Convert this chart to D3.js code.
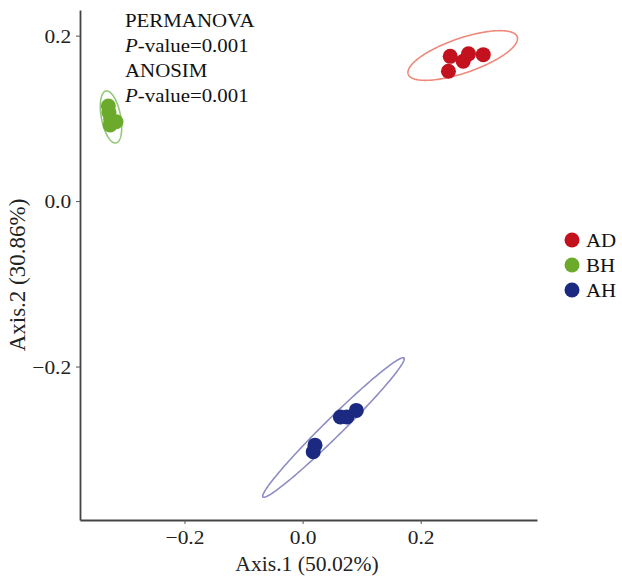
<!DOCTYPE html>
<html>
<head>
<meta charset="utf-8">
<script src="https://cdn.jsdelivr.net/npm/d3@7"></script>
<style>
  body { margin: 0; background: #fff; }
  svg text { font-family: "Liberation Serif", "DejaVu Serif", serif; }
</style>
</head>
<body>
<div id="chart"></div>
<script>
// groups, in legend order
const groups = ["AD", "BH", "AH"];
const groupColors = ["#C3121E", "#6CAA2C", "#1B2A80"];
const ellipseColors = ["#EE8A7C", "#93C97A", "#8D8DC4"];

// PCoA sample coordinates (Axis.1, Axis.2)
const adPoints = [[0.250, 0.175], [0.281, 0.178], [0.272, 0.169], [0.306, 0.177], [0.247, 0.157]];
const bhPoints = [[-0.329, 0.115], [-0.328, 0.107], [-0.325, 0.099], [-0.316, 0.096], [-0.326, 0.092]];
const ahPoints = [[0.021, -0.295], [0.018, -0.303], [0.064, -0.261], [0.075, -0.261], [0.091, -0.253]];

// ellipses: centre, end of major axis, end of minor axis (data units)
const ellipseCentres = [[0.2712, 0.1760], [-0.3245, 0.1017], [0.0523, -0.2737]];
const ellipseMajorEnds = [[0.3636, 0.1984], [-0.3330, 0.1331], [0.1717, -0.1897]];
const ellipseMinorEnds = [[0.2800, 0.1560], [-0.3085, 0.1040], [0.0630, -0.2814]];

const xTicks = [-0.2, 0.0, 0.2];
const yTicks = [-0.2, 0.0, 0.2];
const statLines = ["PERMANOVA", "P|-value=0.001", "ANOSIM", "P|-value=0.001"];

const width = 622, height = 577;
const svg = d3.select("#chart").append("svg")
    .attr("width", width).attr("height", height);

const x = d3.scaleLinear().domain([-0.377, 0.397]).range([80, 537]);
const y = d3.scaleLinear().domain([-0.3855, 0.231]).range([520, 10]);

// ellipses
const line = d3.line().curve(d3.curveLinearClosed);
ellipseCentres.forEach((c, i) => {
    const m = ellipseMajorEnds[i], n = ellipseMinorEnds[i];
    const pts = d3.range(0, 2 * Math.PI, Math.PI / 90).map(t => {
        const dx = Math.cos(t) * (m[0] - c[0]) + Math.sin(t) * (n[0] - c[0]);
        const dy = Math.cos(t) * (m[1] - c[1]) + Math.sin(t) * (n[1] - c[1]);
        return [x(c[0] + dx), y(c[1] + dy)];
    });
    svg.append("path")
        .attr("d", line(pts))
        .attr("fill", "none")
        .attr("stroke", ellipseColors[i])
        .attr("stroke-width", 1.6);
});

// points
[adPoints, bhPoints, ahPoints].forEach((pts, i) => {
    svg.append("g").selectAll("circle")
        .data(pts).enter()
        .append("circle")
        .attr("cx", d => x(d[0]))
        .attr("cy", d => y(d[1]))
        .attr("r", 7.5)
        .attr("fill", groupColors[i]);
});

// axes
const axisColor = "#444";
const xAxis = svg.append("g")
    .attr("transform", "translate(0,520)")
    .call(d3.axisBottom(x).tickValues(xTicks).tickSize(4).tickSizeOuter(0).tickFormat(d3.format(".1f")));
const yAxis = svg.append("g")
    .attr("transform", "translate(80,0)")
    .call(d3.axisLeft(y).tickValues(yTicks).tickSize(4).tickSizeOuter(0).tickFormat(d3.format(".1f")));

[xAxis, yAxis].forEach(a => {
    a.select(".domain").attr("stroke", axisColor).attr("stroke-width", 1.8);
    a.selectAll(".tick line").attr("stroke", "#555").attr("stroke-width", 1);
    a.selectAll(".tick text")
        .attr("fill", "#222")
        .attr("transform", "scale(1.1,1)")
        .style("font-family", "Liberation Serif, serif")
        .style("font-size", "19.5px");
});
xAxis.selectAll(".tick text").attr("dy", null).attr("y", 24);
yAxis.selectAll(".tick text").attr("x", -8).attr("dy", "0.35em");

svg.append("text")
    .attr("transform", "translate(307,571) scale(1.08,1)")
    .attr("text-anchor", "middle")
    .style("font-size", "20px")
    .attr("fill", "#222")
    .text("Axis.1 (50.02%)");

svg.append("text")
    .attr("transform", "translate(25,275) rotate(-90)")
    .attr("text-anchor", "middle")
    .style("font-size", "23px")
    .attr("fill", "#222")
    .text("Axis.2 (30.86%)");

// statistics annotation
statLines.forEach((s, i) => {
    const t = svg.append("text")
        .attr("transform", `translate(125,${27 + i * 25}) scale(1.16,1)`)
        .style("font-size", "18px")
        .attr("fill", "#111");
    const parts = s.split("|");
    if (parts.length > 1) {
        t.append("tspan").style("font-style", "italic").text(parts[0]);
        t.append("tspan").text(parts[1]);
    } else {
        t.text(s);
    }
});

// legend
const legend = svg.append("g").attr("transform", "translate(572,240)");
groups.forEach((g, i) => {
    legend.append("circle")
        .attr("cx", 0).attr("cy", i * 25)
        .attr("r", 7.5)
        .attr("fill", groupColors[i]);
    legend.append("text")
        .attr("transform", `translate(14,${i * 25 + 6.5}) scale(1.1,1)`)
        .style("font-size", "19px")
        .attr("fill", "#111")
        .text(g);
});
</script>
</body>
</html>
